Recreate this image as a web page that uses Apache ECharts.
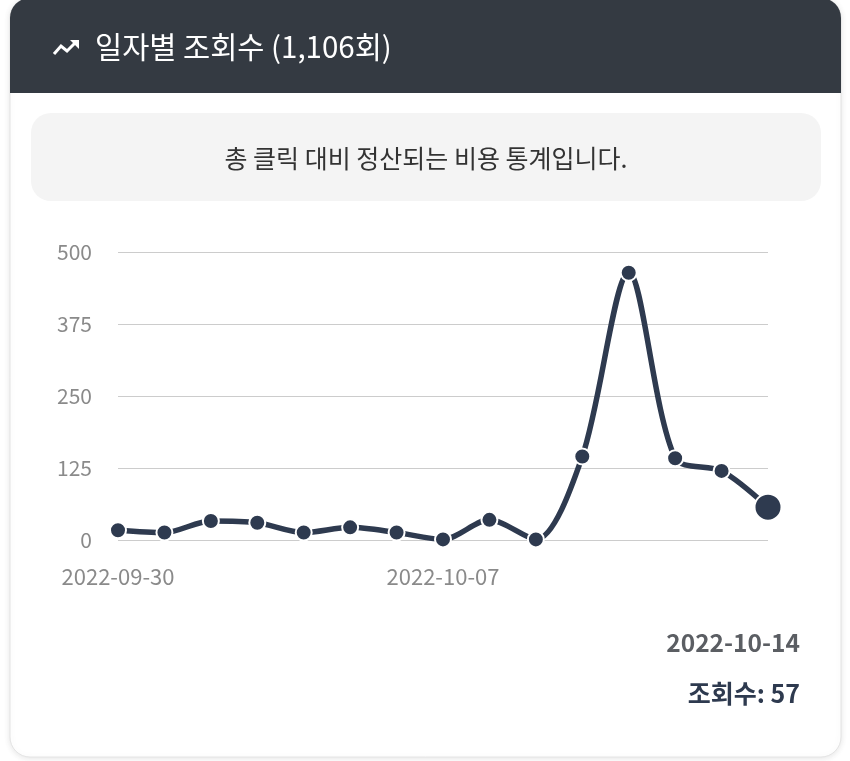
<!DOCTYPE html>
<html>
<head>
<meta charset="utf-8">
<script src="https://cdn.jsdelivr.net/npm/echarts@6/dist/echarts.min.js"></script>
<style>
html,body{margin:0;padding:0;background:#ffffff;}
#c{width:850px;height:761px;}
</style>
</head>
<body>
<div id="c"></div>
<script>
const titleText = '일자별 조회수 (1,106회)';
const noteText = '총 클릭 대비 정산되는 비용 통계입니다.';
const dates = ['2022-09-30','2022-10-01','2022-10-02','2022-10-03','2022-10-04','2022-10-05','2022-10-06','2022-10-07','2022-10-08','2022-10-09','2022-10-10','2022-10-11','2022-10-12','2022-10-13','2022-10-14'];
const views = [17,13,33,30,13,22,13,1,35,1,145,464,142,120,57];
const yTicks = [0,125,250,375,500];
const shownLabels = ['2022-09-30','2022-10-07'];
const focusIndex = 14;

const FONT = '"Noto Sans CJK KR","Noto Sans",sans-serif';
const DARK = '#2e3a4f';
const chart = echarts.init(document.getElementById('c'), null, {renderer:'canvas'});

const seriesData = views.map((v,i)=> i===focusIndex
  ? {value:v, symbolSize:27, itemStyle:{color:DARK,borderColor:'#fff',borderWidth:2}}
  : v);

chart.setOption({
  animation:false,
  backgroundColor:'#ffffff',
  textStyle:{fontFamily:FONT},
  graphic:[
    {type:'rect', z:-10, shape:{x:10,y:-2,width:831,height:759,r:20},
     style:{fill:'#ffffff',stroke:'#e4e4e4',lineWidth:1,shadowBlur:6,shadowColor:'rgba(0,0,0,0.10)',shadowOffsetY:1}},
    {type:'rect', z:-9, shape:{x:10,y:-2,width:831,height:95,r:[20,20,0,0]},
     style:{fill:'#343a42'}},
    {type:'polyline', z:-8, shape:{points:[[54,54],[61,46],[67,51],[76,42]]},
     style:{stroke:'#ffffff',lineWidth:3,fill:null,lineJoin:'miter'}},
    {type:'polygon', z:-8, shape:{points:[[70,40],[79,40],[79,49]]},
     style:{fill:'#ffffff'}},
    {type:'text', z:-8, x:95, y:47,
     style:{text:titleText,fill:'#ffffff',font:'29.5px '+FONT,textVerticalAlign:'middle',verticalAlign:'middle'}},
    {type:'rect', z:-9, shape:{x:31,y:113,width:790,height:88,r:20},
     style:{fill:'#f4f4f4'}},
    {type:'text', z:-8, x:426, y:158,
     style:{text:noteText,fill:'#333333',font:'25px '+FONT,align:'center',textAlign:'center',verticalAlign:'middle',textVerticalAlign:'middle'}},
    {type:'text', z:-8, x:800, y:643,
     style:{text:dates[focusIndex],fill:'#5b5e63',font:'bold 24.5px '+FONT,align:'right',textAlign:'right',verticalAlign:'middle',textVerticalAlign:'middle'}},
    {type:'text', z:-8, x:800, y:693,
     style:{text:'조회수: '+views[focusIndex],fill:DARK,font:'bold 25px '+FONT,align:'right',textAlign:'right',verticalAlign:'middle',textVerticalAlign:'middle'}}
  ],
  grid:{left:118,right:82,top:252,bottom:221,containLabel:false},
  xAxis:{
    type:'category', data:dates, boundaryGap:false,
    axisLine:{show:false}, axisTick:{show:false},
    axisLabel:{color:'#8a8a8a',fontSize:22,margin:26,fontFamily:FONT,
      interval:(i,v)=>shownLabels.indexOf(v)>=0}
  },
  yAxis:{
    type:'value', min:yTicks[0], max:yTicks[yTicks.length-1], interval:125,
    axisLine:{show:false}, axisTick:{show:false},
    axisLabel:{color:'#8a8a8a',fontSize:21,margin:26,fontFamily:FONT},
    splitLine:{lineStyle:{color:'#cccccc',width:1}}
  },
  series:[{
    type:'line', data:seriesData, smooth:0.3,
    symbol:'circle', symbolSize:16, showAllSymbol:true,
    lineStyle:{color:DARK,width:5.5},
    itemStyle:{color:DARK,borderColor:'#ffffff',borderWidth:2}
  }]
});
</script>
</body>
</html>
